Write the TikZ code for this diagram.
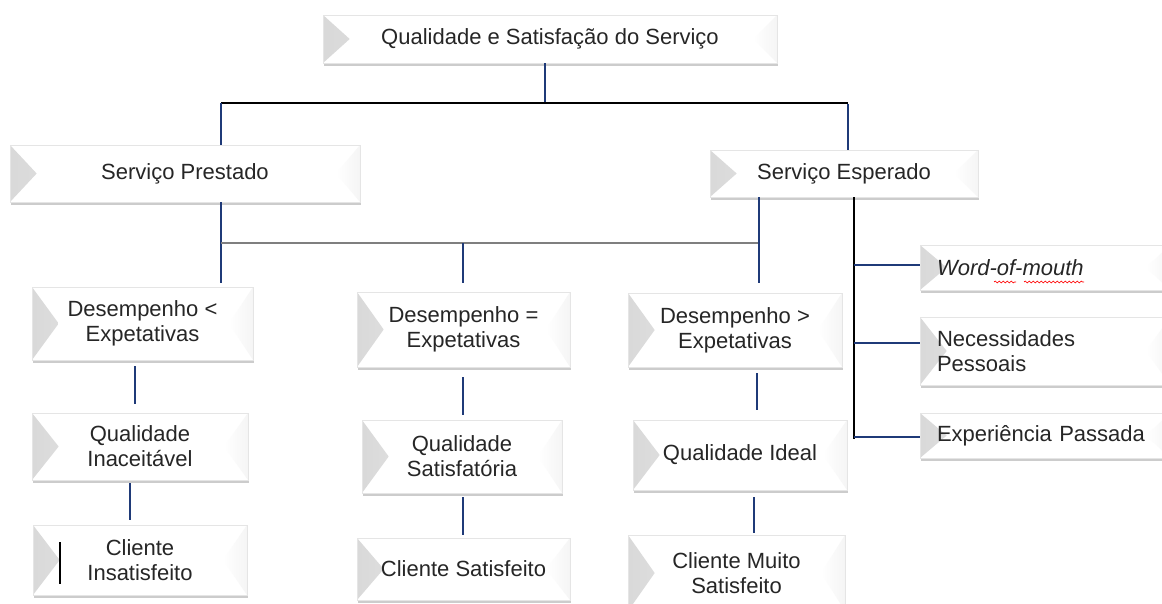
\documentclass[tikz,border=0pt]{standalone}
\usepackage{fontspec}
\setmainfont{Liberation Sans}
\usetikzlibrary{shadows,decorations.pathmorphing}
\definecolor{navy}{HTML}{1F3A78}
\definecolor{linegray}{HTML}{7F7F7F}
\tikzset{
  px/.style={x=0.75pt,y=-0.75pt},
  box/.style 2 args={draw=gray!20, line width=0.3pt, fill=white,
    minimum width=#1*0.75pt, minimum height=#2*0.75pt, inner sep=2pt,
    align=center, text=black!85,
    font=\fontsize{16.5}{18.75}\selectfont,
    drop shadow={shadow xshift=1pt, shadow yshift=-2pt, opacity=0.4, fill=gray},
    path picture={
      \shade[left color=gray!30, right color=gray!4]
        (path picture bounding box.north west) -- (path picture bounding box.south west)
        -- ([xshift=20pt]path picture bounding box.west) -- cycle;
      \shade[left color=white, right color=gray!8]
        (path picture bounding box.north east) -- (path picture bounding box.south east)
        -- ([xshift=-18pt]path picture bounding box.east) -- cycle;
    }},
  sidebox/.style 2 args={box={#1}{#2}, align=left, text width=(#1-34)*0.75pt},
  blue line/.style={draw=navy, line width=1.6pt},
  black line/.style={draw=black, line width=1.6pt},
  gray line/.style={draw=linegray, line width=1.2pt},
}
\begin{document}
\begin{tikzpicture}[px]
\useasboundingbox (0,0) rectangle (1162,603);
\clip (0,0) rectangle (1162,603);
% nodes
\node[box={454}{48}] (top) at (550,39) {Qualidade e Satisfação do Serviço};
\node[box={350}{57}] (sp) at (185,173.5) {Serviço Prestado};
\node[box={268}{47}] (se) at (844,173.5) {Serviço Esperado};
\node[box={221}{73}] (d1) at (142.5,323.5) {Desempenho <\\Expetativas};
\node[box={213}{75}] (d2) at (463.5,329.5) {Desempenho =\\Expetativas};
\node[box={214}{74}] (d3) at (735,330) {Desempenho >\\Expetativas};
\node[box={216}{67}] (q1) at (140,446.5) {Qualidade\\Inaceitável};
\node[box={200}{73}] (q2) at (462,456.5) {Qualidade\\Satisfatória};
\node[box={214}{70}] (q3) at (740,455) {Qualidade Ideal};
\node[box={214}{70}] (c1) at (140,560) {Cliente\\Insatisfeito};
\node[box={213}{62}] (c2) at (463.5,569) {Cliente Satisfeito};
\node[box={217}{76}] (c3) at (736.5,573) {Cliente Muito\\Satisfeito};
\node[sidebox={250}{45}] (wm) at (1045,267.5) {\textit{Word-of-mouth}};
\node[sidebox={250}{68}] (np) at (1045,351) {Necessidades\\Pessoais};
\node[sidebox={250}{45}] (ep) at (1045,435.5) {Experiência Passada};
% coordinates
\coordinate (j0) at (545,103);
\coordinate (jL) at (221,103);
\coordinate (jR) at (848,103);
\coordinate (k0) at (221,243);
\coordinate (k1) at (463,243);
\coordinate (k2) at (759,243);
\coordinate (kb) at (221,283);
\coordinate (km) at (463,283);
\coordinate (kr) at (759,283);
\coordinate (s0) at (854,197);
\coordinate (s3) at (854,439);
% top connectors
\draw[blue line] (top.south -| j0) -- (j0);
\draw[black line] (jL) -- (jR);
\draw[blue line] (jL) -- (sp.north -| jL);
\draw[blue line] ([yshift=-0.6pt]jR) -- (se.north -| jR);
% second level connectors
\draw[blue line] (sp.south -| k0) -- (kb);
\draw[gray line] (k0) -- (k2);
\draw[blue line] (k1) -- (km);
\draw[blue line] (se.south -| k2) -- (kr);
% vertical chains
\draw[blue line] (135,366) -- (135,404);
\draw[blue line] (130,483) -- (130,520);
\draw[blue line] (463,377) -- (463,415);
\draw[blue line] (463,497) -- (463,535);
\draw[blue line] (757,373) -- (757,410);
\draw[blue line] (754,497) -- (754,533);
% right branch
\draw[black line] (s0) -- (s3);
\draw[blue line] (854,265) -- (wm.west |- 0,265);
\draw[blue line] (854,343) -- (np.west |- 0,343);
\draw[blue line] (854,437) -- (ep.west |- 0,437);
% spell-check wave and cursor mark
\draw[red, line width=0.5pt, decorate, decoration={snake, segment length=3pt, amplitude=0.7pt}] (994,282) -- (1016,282);
\draw[red, line width=0.5pt, decorate, decoration={snake, segment length=3pt, amplitude=0.7pt}] (1024,282) -- (1084,282);
\draw[black, line width=0.8pt] (60,542) -- (60,584);
\end{tikzpicture}
\end{document}
